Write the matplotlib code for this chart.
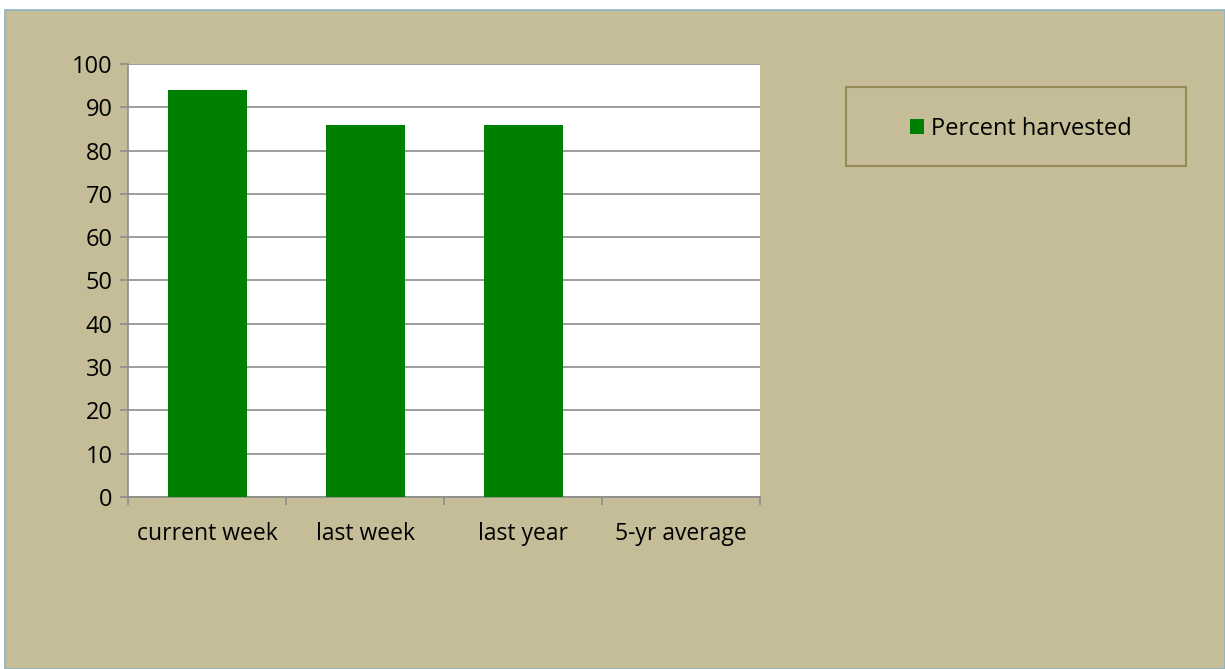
import matplotlib.pyplot as plt
from matplotlib.patches import Rectangle, Patch

# data
categories = ['current week', 'last week', 'last year', '5-yr average']
values = [94, 86, 86, 0]
series_name = 'Percent harvested'
yticks = [0, 10, 20, 30, 40, 50, 60, 70, 80, 90, 100]

bg = '#c4bd97'
green = '#008000'
grid = '#8c8c8c'
W, H = 1225, 669

plt.rcParams['font.family'] = ['Open Sans', 'DejaVu Sans']

fig = plt.figure(figsize=(W / 100, H / 100), dpi=100)
fig.patch.set_facecolor('white')
# chart area panel
fig.add_artist(Rectangle((5 / W, 0), 1 - 5 / W, 1 - 10 / H,
                         transform=fig.transFigure, facecolor=bg,
                         edgecolor='#8db3c2', linewidth=1.2, zorder=-2))

ax = fig.add_axes([128 / W, 1 - 497 / H, (760 - 128) / W, (497 - 64) / H])
ax.set_facecolor('white')
x = range(len(categories))
ax.bar(x, values, width=0.5, color=green, zorder=3, label=series_name)

ax.set_ylim(0, 100)
ax.set_xlim(-0.5, len(categories) - 0.5)
ax.set_yticks(yticks)
ax.set_yticklabels([str(t) for t in yticks], fontsize=17)
ax.yaxis.grid(True, color=grid, linewidth=1.2, zorder=1)
ax.set_xticks([i + 0.5 for i in range(-1, len(categories))], minor=False)
ax.set_xticklabels([])
ax.set_xticks(list(x), minor=True)
ax.set_xticklabels(categories, minor=True, fontsize=16.5)
ax.tick_params(axis='x', which='minor', length=0, pad=18)
ax.tick_params(axis='x', which='major', length=6, color=grid, width=1.2)
ax.tick_params(axis='y', length=6, color=grid, width=1.2, pad=5)
for s in ['top', 'right']:
    ax.spines[s].set_visible(False)
for s in ['left', 'bottom']:
    ax.spines[s].set_color(grid)
    ax.spines[s].set_linewidth(1.2)

# legend frame drawn separately
fig.add_artist(Rectangle((846 / W, 1 - 166 / H), 340 / W, 79 / H,
                         transform=fig.transFigure, facecolor=bg,
                         edgecolor='#948a54', linewidth=1.5, zorder=1))
handles = [Patch(facecolor=green, label=series_name)]
leg = fig.legend(handles=handles, loc='center',
                 bbox_to_anchor=(1021 / W, 1 - 129 / H),
                 frameon=False, fontsize=17,
                 handlelength=0.6, handleheight=0.6, handletextpad=0.3,
                 borderpad=0, borderaxespad=0)
leg.set_zorder(2)

fig.savefig('out.png', dpi=100)
